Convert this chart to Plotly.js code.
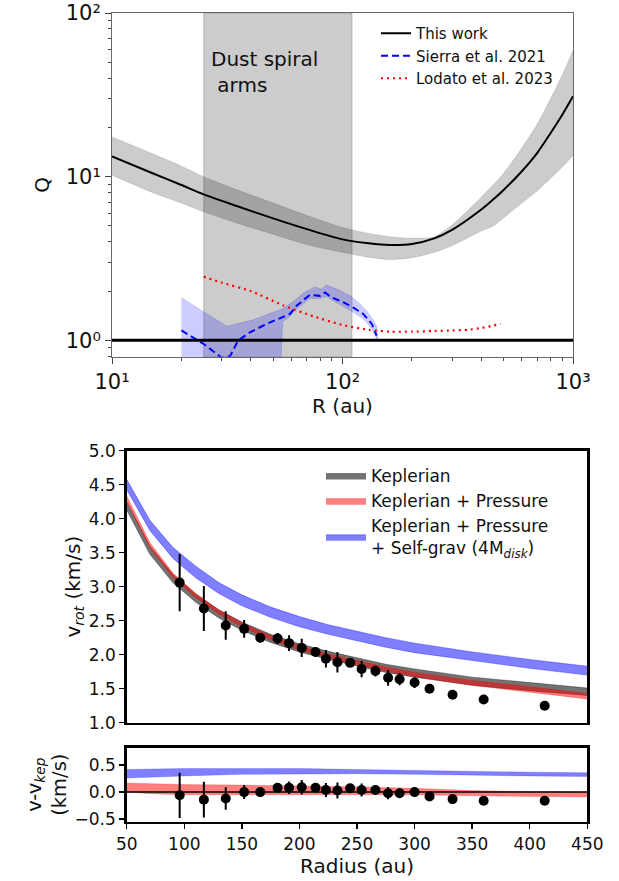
<!DOCTYPE html>
<html><head><meta charset="utf-8">
<script src="https://cdn.plot.ly/plotly-3.0.1.min.js"></script>
<style>html,body{margin:0;padding:0;background:#fff}#chart{width:619px;height:881px}</style>
</head><body><div id="chart"></div>
<script>
// ---------- Top panel: Toomre Q ----------
const qR        = [10,15,20,25,35,50,70,100,130,160,200,250,300,400,450,500,600,700,800,900,1000];
const qThisWork = [13.3,10.5,8.9,7.8,6.6,5.56,4.78,4.14,3.92,3.83,3.88,4.2,4.75,6.3,7.25,8.3,10.8,14.0,18.5,24,31];
const qUpper    = [17.5,13.8,11.6,10.0,8.3,6.9,5.8,4.9,4.5,4.3,4.2,4.3,5.1,7.5,8.9,10.5,15,21,30,42,59];
const qLower    = [10.2,8.0,6.9,6.1,5.2,4.45,3.85,3.45,3.22,3.12,3.2,3.45,3.8,4.65,5.0,5.6,6.9,8.2,9.8,11.5,13.5];

const sierraR = [20,25,30,32.5,35.3,39.7,46.9,59.2,63.2,72.3,79.8,83.9,89.7,100.7,111,123,134,140.6];
const sierraQ = [1.15,0.95,0.78,0.80,1.0,1.12,1.26,1.45,1.63,1.90,1.87,1.96,1.83,1.71,1.59,1.45,1.26,1.07];
const sierraUpR = [20,25,31.5,40,55,62,68,76,81,85,95,108,120,127,135,141,142];
const sierraUpQ = [1.82,1.5,1.22,1.32,1.56,1.75,1.96,2.12,2.05,2.18,2.05,1.87,1.65,1.52,1.35,1.21,1.02];
const sierraLoR = [20,53.5,55,59,63,72,80,85,90,100,110,123,134,141];
const sierraLoQ = [0.5,0.5,1.30,1.40,1.55,1.80,1.80,1.85,1.75,1.62,1.50,1.36,1.18,1.02];

const lodatoR = [25,30,40,55,75,100,130,160,200,250,300,350,400,450,485];
const lodatoQ = [2.45,2.25,2.0,1.64,1.4,1.24,1.16,1.13,1.13,1.14,1.15,1.16,1.19,1.23,1.26];

const dustArms = [25,110];
const qCrit = 1;

// ---------- Middle panel: rotation curve ----------
const radii = [96,117,136,152,166,181,191,202,214,223,233,244,254,266,277,287,300,313,333,360,413];
const vRot  = [3.06,2.68,2.43,2.38,2.25,2.24,2.17,2.10,2.04,1.94,1.89,1.88,1.79,1.76,1.66,1.64,1.59,1.50,1.41,1.34,1.25];
const vErr  = [0.42,0.33,0.21,0.13,0.07,0.08,0.115,0.135,0.07,0.13,0.15,0.06,0.12,0.08,0.115,0.09,0.08,0.02,0.02,0.06,0.02];

const modelR = [50,70,90,110,130,150,175,200,225,250,275,300,350,400,450];
const kepLo  = [4.13,3.48,3.06,2.77,2.54,2.36,2.18,2.04,1.93,1.83,1.74,1.67,1.55,1.47,1.40];
const kepHi  = [4.25,3.60,3.18,2.89,2.66,2.48,2.30,2.16,2.05,1.95,1.86,1.79,1.67,1.59,1.51];
const presLo = [4.26,3.58,3.14,2.84,2.60,2.41,2.22,2.07,1.95,1.85,1.76,1.68,1.55,1.45,1.35];
const presHi = [4.33,3.65,3.20,2.90,2.66,2.47,2.28,2.13,2.01,1.91,1.82,1.74,1.62,1.53,1.43];
const sgLo   = [4.43,3.83,3.42,3.13,2.90,2.72,2.55,2.41,2.30,2.20,2.11,2.03,1.91,1.80,1.70];
const sgHi   = [4.58,3.98,3.58,3.30,3.06,2.88,2.70,2.56,2.44,2.34,2.25,2.17,2.04,1.93,1.83];

// ---------- Bottom panel: residuals ----------
const vRes = [-0.06,-0.14,-0.12,0.0,0.0,0.08,0.08,0.09,0.08,0.04,0.03,0.07,0.04,0.04,-0.02,-0.02,0.0,-0.08,-0.13,-0.16,-0.16];
const resR      = [50,70,100,150,200,250,300,350,400,450];
const resSgLo   = [0.26,0.28,0.30,0.33,0.34,0.34,0.33,0.31,0.30,0.29];
const resSgHi   = [0.42,0.43,0.44,0.44,0.44,0.42,0.40,0.38,0.37,0.36];
const resPresLo = [0.0,-0.03,-0.05,-0.05,-0.05,-0.05,-0.05,-0.07,-0.08,-0.09];
const resPresHi = [0.17,0.16,0.14,0.13,0.12,0.10,0.07,0.03,0.01,0.0];

const qTicks = [10,100,1000], qTickText = ['10\u00b9','10\u00b2','10\u00b3'];
const qYTicks = [1,10,100], qYTickText = ['10\u2070','10\u00b9','10\u00b2'];
const labels = {
  thisWork:'This work', sierra:'Sierra et al. 2021', lodato:'Lodato et al. 2023',
  kep:'Keplerian', pres:'Keplerian + Pressure',
  sg:'Keplerian + Pressure<br>+ Self-grav (4M<sub><i>disk</i></sub>)'
};

// ---------- geometry (pixels -> paper) ----------
const W = 619, H = 881;
const px = p => p / W, py = p => 1 - p / H;
const FONT = 'DejaVu Sans';

function minorLog(lo, hi) { // minor tick positions for log axes
  const out = [];
  for (let d = lo; d < hi; d *= 10) for (let k = 2; k <= 9; k++) out.push(d * k);
  return out;
}

const traces = [];
// This work band
traces.push({x: qR, y: qLower, xaxis:'x', yaxis:'y', mode:'lines', line:{width:0.8, color:'rgba(0,0,0,0.15)', shape:'spline', smoothing:0.8}, showlegend:false, hoverinfo:'skip'});
traces.push({x: qR, y: qUpper, xaxis:'x', yaxis:'y', mode:'lines', fill:'tonexty', fillcolor:'rgba(0,0,0,0.2)', line:{width:0.8, color:'rgba(0,0,0,0.15)', shape:'spline', smoothing:0.8}, showlegend:false, hoverinfo:'skip'});
traces.push({x: qR, y: qThisWork, xaxis:'x', yaxis:'y', mode:'lines', line:{color:'black', width:2, shape:'spline', smoothing:0.8}, name: labels.thisWork, legend:'legend'});
// Sierra band
traces.push({x: sierraUpR.concat(sierraLoR.slice().reverse()), y: sierraUpQ.concat(sierraLoQ.slice().reverse()),
  xaxis:'x', yaxis:'y', mode:'lines', fill:'toself', fillcolor:'rgba(0,0,255,0.2)', line:{width:1, color:'rgba(0,0,255,0.15)'}, showlegend:false, hoverinfo:'skip'});
traces.push({x: sierraR, y: sierraQ, xaxis:'x', yaxis:'y', mode:'lines', line:{color:'#0000ff', width:2, dash:'7px,4px'}, name: labels.sierra, legend:'legend'});
traces.push({x: lodatoR, y: lodatoQ, xaxis:'x', yaxis:'y', mode:'lines', line:{color:'#ff0000', width:2.2, dash:'2px,4px', shape:'spline', smoothing:0.6}, name: labels.lodato, legend:'legend'});

// Model bands
function band(xs, lo, hi, fill, edge, name, xa, ya, legend) {
  traces.push({x: xs, y: lo, xaxis:xa, yaxis:ya, mode:'lines', line:{width:1, color:edge}, showlegend:false, hoverinfo:'skip'});
  const t = {x: xs, y: hi, xaxis:xa, yaxis:ya, mode:'lines', fill:'tonexty', fillcolor:fill, line:{width:1, color:edge}, hoverinfo:'skip'};
  if (name) { t.name = name; t.legend = legend; } else t.showlegend = false;
  traces.push(t);
}
band(modelR, kepLo, kepHi, 'rgba(0,0,0,0.55)', 'rgba(0,0,0,0.35)', labels.kep, 'x2','y2','legend2');
band(modelR, presLo, presHi, 'rgba(255,0,0,0.5)', 'rgba(255,0,0,0.35)', labels.pres, 'x2','y2','legend2');
band(modelR, sgLo, sgHi, 'rgba(0,0,255,0.5)', 'rgba(0,0,255,0.35)', labels.sg, 'x2','y2','legend2');
traces.push({x: radii, y: vRot, xaxis:'x2', yaxis:'y2', mode:'markers', marker:{color:'black', size:10},
  error_y:{type:'data', array:vErr, visible:true, thickness:2, width:0, color:'black'}, showlegend:false});

// Bottom panel
band(resR, resSgLo, resSgHi, 'rgba(0,0,255,0.5)', 'rgba(0,0,255,0.2)', null, 'x3','y3');
band(resR, resPresLo, resPresHi, 'rgba(255,0,0,0.5)', 'rgba(255,0,0,0.2)', null, 'x3','y3');
traces.push({x: radii, y: vRes, xaxis:'x3', yaxis:'y3', mode:'markers', marker:{color:'black', size:10},
  error_y:{type:'data', array:vErr, visible:true, thickness:2, width:0, color:'black'}, showlegend:false});

const tickFont = {family:FONT, size:17, color:'#111'};
const layout = {
  width: W, height: H, margin:{l:0,r:0,t:0,b:0}, paper_bgcolor:'white', plot_bgcolor:'white',
  font:{family:FONT, color:'#111'}, showlegend:true,
  xaxis:{domain:[px(112), px(573)], type:'log', range:[1,3], tickmode:'array', tickvals:qTicks, ticktext:qTickText,
    ticks:'outside', ticklen:6, tickwidth:1, tickcolor:'#444', tickfont:{family:FONT,size:21,color:'#111'}, ticklabeloverflow:'allow',
    minor:{tickmode:'array', tickvals:minorLog(10,1000), ticks:'outside', ticklen:3.5, tickwidth:1, tickcolor:'#444'},
    showline:true, mirror:true, linecolor:'#666', linewidth:1, showgrid:false, zeroline:false,
    title:{text:'R (au)', font:{family:FONT,size:20,color:'#111'}, standoff:0}, anchor:'y'},
  yaxis:{domain:[py(356.7), py(13)], type:'log', range:[-0.1,2.0005], tickmode:'array', tickvals:qYTicks, ticktext:qYTickText,
    ticks:'outside', ticklen:6, tickwidth:1, tickcolor:'#444', tickfont:{family:FONT,size:21,color:'#111'}, ticklabeloverflow:'allow',
    minor:{tickmode:'array', tickvals:[0.8,0.9].concat(minorLog(1,100)), ticks:'outside', ticklen:3.5, tickwidth:1, tickcolor:'#444'},
    showline:true, mirror:true, linecolor:'#666', linewidth:1, showgrid:false, zeroline:false,
    title:{text:'Q', font:{family:FONT,size:20,color:'#111'}, standoff:10}, anchor:'x'},
  xaxis2:{domain:[px(126.7), px(587.3)], range:[50,450], showticklabels:false, ticks:'',
    showline:true, mirror:true, linecolor:'black', linewidth:2.5, showgrid:false, zeroline:false, anchor:'y2'},
  yaxis2:{domain:[py(722.7), py(450.7)], range:[1,5], dtick:0.5, tick0:1, tickformat:'.1f', ticks:'outside', ticklen:5, tickwidth:1.5, tickcolor:'black',
    tickfont:tickFont, ticklabeloverflow:'allow', showline:true, mirror:true, linecolor:'black', linewidth:2.5, showgrid:false, zeroline:false,
    title:{text:'v<sub><i>rot</i></sub> (km/s)', font:{family:FONT,size:20,color:'#111'}, standoff:3}, anchor:'x2'},
  xaxis3:{domain:[px(126.7), px(587.3)], range:[50,450], dtick:50, tick0:50, ticks:'outside', ticklen:5, tickwidth:1.5, tickcolor:'black',
    tickfont:tickFont, ticklabeloverflow:'allow', showline:true, mirror:true, linecolor:'black', linewidth:2.5, showgrid:false, zeroline:false,
    title:{text:'Radius (au)', font:{family:FONT,size:20,color:'#111'}, standoff:3}, anchor:'y3'},
  yaxis3:{domain:[py(821.7), py(747.7)], range:[-0.55,0.825], tickmode:'array', tickvals:[-0.5,0,0.5], tickformat:'.1f', ticks:'outside', ticklen:5, tickwidth:1.5, tickcolor:'black',
    tickfont:tickFont, ticklabeloverflow:'allow', showline:true, mirror:true, linecolor:'black', linewidth:2.5, showgrid:false, zeroline:false,
    title:{text:'v-v<sub><i>kep</i></sub><br>(km/s)', font:{family:FONT,size:19.5,color:'#111'}, standoff:3}, anchor:'x3'},
  legend:{x:px(376), xanchor:'left', y:py(17), yanchor:'top', traceorder:'normal', bgcolor:'rgba(0,0,0,0)', font:{family:FONT,size:15,color:'#111'}, tracegroupgap:0},
  legend2:{x:px(321), xanchor:'left', y:py(458), yanchor:'top', traceorder:'normal', itemwidth:40, bgcolor:'rgba(0,0,0,0)', font:{family:FONT,size:17,color:'#111'}, tracegroupgap:0},
  shapes:[
    {type:'rect', xref:'x', yref:'y domain', x0:dustArms[0], x1:dustArms[1], y0:0, y1:1, fillcolor:'rgba(0,0,0,0.2)', line:{color:'rgba(0,0,0,0.2)', width:1}, layer:'below'},
    {type:'line', xref:'x domain', yref:'y', x0:0, x1:1, y0:qCrit, y1:qCrit, line:{color:'black', width:3}},
    {type:'line', xref:'x3 domain', yref:'y3', x0:0, x1:1, y0:0, y1:0, line:{color:'black', width:1.5}}
  ],
  annotations:[
    {xref:'paper', yref:'paper', x:px(209), y:py(45), xanchor:'left', yanchor:'top', align:'left', showarrow:false,
     text:'Dust spiral<br>\u00a0arms', font:{family:FONT, size:20, color:'#111'}}
  ]
};
Plotly.newPlot('chart', traces, layout, {staticPlot:true, displayModeBar:false});
</script>
</body></html>
